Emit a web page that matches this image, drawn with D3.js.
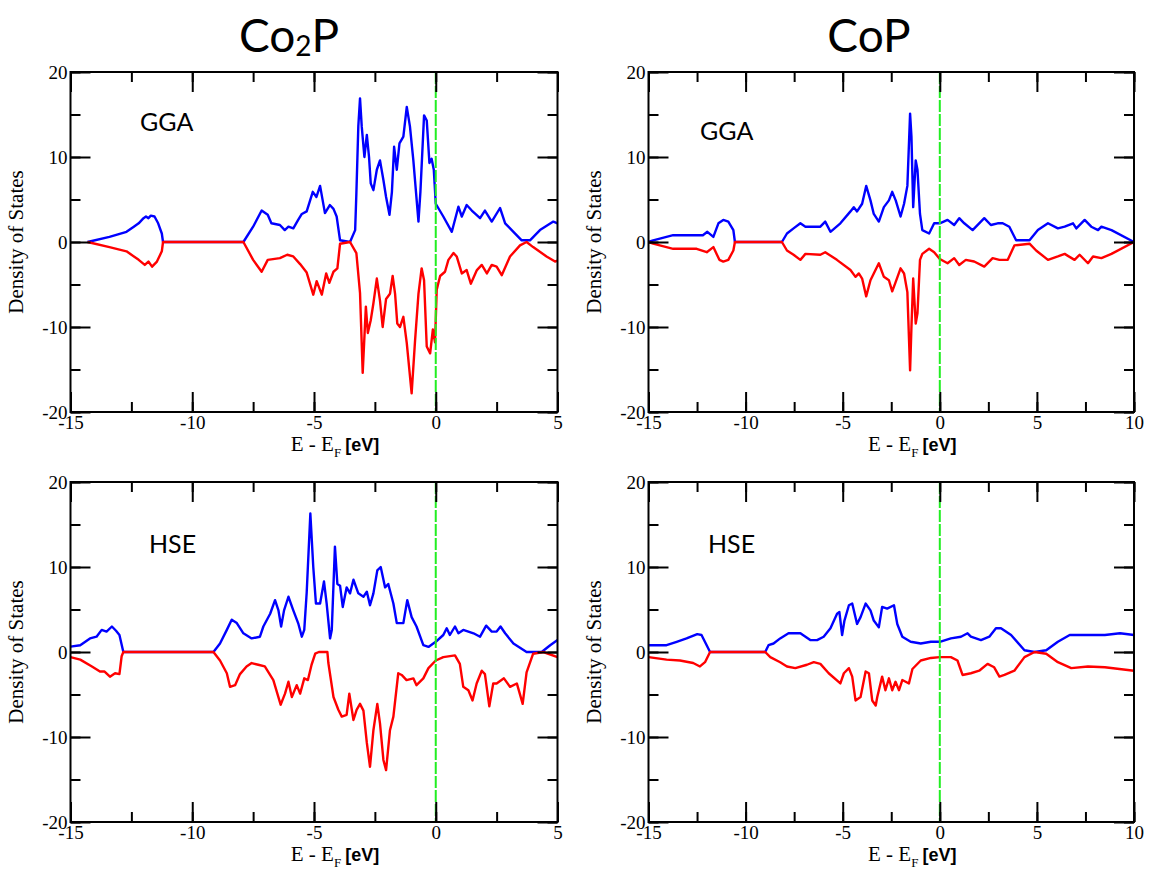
<!DOCTYPE html>
<html><head><meta charset="utf-8">
<script src="https://cdn.jsdelivr.net/npm/d3@7"></script>
<style>body{margin:0;background:#fff} svg{display:block}</style>
</head><body><svg id="c" width="1149" height="871"></svg>
<script>
// ---------- DATA: [E - E_F (eV), DOS] ----------
const co2pGgaUp = [[-14.3,0],[-13.4,0.6],[-12.7,1.2],[-12.4,1.8],[-12.2,2.2],[-12.0,2.8],[-11.9,3.0],[-11.8,2.8],[-11.7,3.1],[-11.55,3.0],[-11.4,2.2],[-11.25,1.0],[-11.2,0],
[-7.9,0],[-7.5,1.8],[-7.15,3.7],[-6.9,3.2],[-6.75,2.2],[-6.4,2.0],[-6.2,1.4],[-6.05,1.8],[-5.85,1.6],[-5.65,2.6],[-5.5,3.3],[-5.3,3.6],[-5.05,5.9],[-4.9,5.3],[-4.75,6.6],[-4.55,3.4],[-4.35,4.35],[-4.2,3.9],[-4.07,3.0],[-3.93,0.2],[-3.52,0],[-3.31,1.4],[-3.26,5.7],[-3.18,13.6],[-3.11,16.9],[-3.04,13.6],[-2.93,10.0],[-2.83,12.6],[-2.74,10.0],[-2.67,6.9],[-2.56,6.1],[-2.42,8.5],[-2.29,9.6],[-2.15,7.3],[-2.04,5.3],[-1.9,3.2],[-1.8,5.9],[-1.71,11.2],[-1.6,8.5],[-1.49,11.6],[-1.33,12.4],[-1.19,15.9],[-1.06,13.6],[-0.92,9.6],[-0.71,2.4],[-0.63,5.9],[-0.48,14.9],[-0.37,14.3],[-0.26,9.3],[-0.17,9.8],[-0.08,8.5],[0,4.5],[0.31,3.0],[0.66,1.2],[0.93,4.15],[1.07,3.0],[1.27,4.35],[1.48,3.7],[1.82,2.8],[2.02,3.7],[2.3,2.4],[2.64,4.0],[2.85,2.2],[3.19,1.2],[3.53,0.2],[3.87,0.2],[4.28,1.4],[4.83,2.4],[5,2.2]];
const co2pGgaDn = [[-14.3,0],[-13.4,-0.6],[-12.7,-1.1],[-12.2,-2.1],[-11.95,-2.7],[-11.8,-2.3],[-11.65,-2.9],[-11.45,-2.3],[-11.25,-1.1],[-11.2,0],
[-7.9,0],[-7.5,-2.1],[-7.15,-3.5],[-6.9,-2.1],[-6.4,-1.9],[-6.1,-1.5],[-5.85,-1.7],[-5.57,-2.6],[-5.3,-3.6],[-5.03,-6.2],[-4.89,-4.6],[-4.68,-6.2],[-4.5,-3.7],[-4.37,-4.8],[-4.2,-3.5],[-4.04,-3.1],[-3.93,-0.2],[-3.52,0],[-3.26,-1.3],[-3.11,-6.0],[-3.0,-15.4],[-2.87,-7.6],[-2.79,-10.7],[-2.67,-9.2],[-2.56,-7.2],[-2.42,-4.3],[-2.29,-6.9],[-2.18,-10.0],[-2.04,-6.7],[-1.88,-6.1],[-1.77,-4.0],[-1.67,-6.1],[-1.58,-9.6],[-1.47,-10.0],[-1.33,-8.8],[-1.19,-11.9],[-0.99,-17.8],[-0.85,-11.6],[-0.71,-6.1],[-0.58,-3.1],[-0.48,-4.5],[-0.37,-12.3],[-0.23,-13.1],[-0.12,-10.3],[-0.03,-11.8],[0.04,-5.6],[0.18,-4.0],[0.38,-3.5],[0.52,-2.1],[0.73,-1.3],[0.86,-1.7],[1.07,-3.7],[1.27,-3.3],[1.44,-4.9],[1.69,-3.3],[1.89,-2.7],[2.1,-3.7],[2.3,-2.7],[2.5,-2.9],[2.71,-3.9],[3.05,-1.7],[3.46,-0.4],[3.73,0],[4.0,-0.6],[4.55,-1.7],[4.9,-2.3],[5,-2.2]];

const copGgaUp = [[-15,0],[-14.76,0.2],[-13.73,0.8],[-12.52,0.8],[-12.2,0.8],[-11.97,1.2],[-11.66,0.6],[-11.4,2.2],[-11.15,2.6],[-10.89,2.4],[-10.63,1.4],[-10.55,0],
[-8.13,0],[-7.87,1.0],[-7.53,1.6],[-7.18,2.2],[-6.92,1.8],[-6.15,1.8],[-5.9,2.4],[-5.63,1.2],[-5.12,2.2],[-4.6,3.6],[-4.43,4.1],[-4.26,3.6],[-4.0,4.5],[-3.79,6.6],[-3.57,4.9],[-3.4,3.3],[-3.14,2.4],[-2.88,4.1],[-2.62,4.9],[-2.45,5.9],[-2.27,4.9],[-2.02,3.0],[-1.84,4.5],[-1.67,6.6],[-1.53,15.1],[-1.46,12.4],[-1.37,4.1],[-1.24,9.6],[-1.15,8.5],[-1.02,3.3],[-0.9,1.4],[-0.55,1.0],[-0.29,2.2],[0,2.2],[0.4,2.6],[0.74,2.0],[1.0,2.8],[1.26,2.2],[1.69,1.4],[2.29,2.8],[2.63,2.0],[2.98,2.2],[3.24,2.2],[3.58,1.8],[3.93,0.2],[4.62,0.2],[5.05,1.4],[5.57,2.2],[6.08,1.6],[6.43,1.8],[6.86,2.2],[7.03,1.6],[7.46,2.6],[7.8,1.8],[8.15,1.4],[8.32,1.8],[8.84,1.4],[10,0]];
const copGgaDn = [[-15,0],[-14.76,-0.2],[-13.73,-0.8],[-12.52,-0.8],[-12.0,-1.2],[-11.66,-0.6],[-11.35,-2.1],[-11.15,-2.3],[-10.89,-2.1],[-10.63,-1.0],[-10.55,0],
[-8.13,0],[-7.87,-1.0],[-7.53,-1.5],[-7.18,-2.1],[-6.92,-1.4],[-6.15,-1.5],[-5.9,-1.2],[-5.3,-2.1],[-4.6,-3.3],[-4.34,-4.1],[-4.17,-3.7],[-4.0,-4.3],[-3.79,-6.4],[-3.57,-4.5],[-3.4,-3.7],[-3.14,-2.5],[-2.88,-4.1],[-2.62,-4.5],[-2.45,-5.8],[-2.27,-4.7],[-2.02,-3.1],[-1.84,-3.7],[-1.67,-5.9],[-1.53,-15.1],[-1.46,-10.0],[-1.37,-4.3],[-1.24,-9.6],[-1.15,-8.4],[-1.02,-2.1],[-0.9,-1.4],[-0.55,-0.8],[-0.29,-1.2],[0,-2.0],[0.4,-2.5],[0.74,-1.9],[1.0,-2.7],[1.34,-2.1],[1.77,-2.3],[2.29,-2.9],[2.72,-1.9],[3.07,-2.1],[3.5,-2.1],[3.84,-0.4],[4.62,-0.2],[4.96,-1.0],[5.57,-2.1],[6.08,-1.7],[6.43,-1.4],[6.94,-2.1],[7.2,-1.5],[7.63,-2.5],[7.89,-1.7],[8.32,-1.9],[8.84,-1.4],[10,0]];

const co2pHseUp = [[-15,0.63],[-14.6,0.8],[-14.2,1.6],[-13.93,1.8],[-13.72,2.6],[-13.52,2.4],[-13.3,3.0],[-13.13,2.5],[-12.99,2.0],[-12.83,0],
[-9.13,0],[-8.86,1.0],[-8.58,2.6],[-8.38,3.8],[-8.17,3.4],[-7.9,2.2],[-7.56,1.6],[-7.22,1.8],[-7.08,3.0],[-6.8,4.5],[-6.6,6.1],[-6.46,4.9],[-6.35,3.0],[-6.23,4.9],[-6.05,6.5],[-5.85,4.9],[-5.64,3.3],[-5.5,1.8],[-5.4,2.6],[-5.3,7.0],[-5.15,16.3],[-5.03,10.0],[-4.92,5.7],[-4.75,5.7],[-4.59,8.3],[-4.48,5.7],[-4.34,1.6],[-4.27,2.6],[-4.14,12.4],[-4.04,8.0],[-3.93,7.8],[-3.82,5.3],[-3.66,7.6],[-3.52,6.9],[-3.38,8.5],[-3.18,6.9],[-2.97,6.5],[-2.83,7.1],[-2.7,5.5],[-2.56,6.9],[-2.4,9.6],[-2.26,10.0],[-2.08,7.6],[-1.95,8.0],[-1.74,5.7],[-1.6,3.4],[-1.33,3.4],[-1.17,6.1],[-0.99,4.1],[-0.79,3.0],[-0.51,0.8],[-0.3,0.6],[0,1.2],[0.31,2.0],[0.45,2.8],[0.58,2.0],[0.79,3.0],[0.93,2.2],[1.13,2.6],[1.55,2.2],[1.82,1.8],[2.07,3.1],[2.3,2.4],[2.5,2.4],[2.66,3.0],[2.85,2.2],[3.19,1.0],[3.73,0],[4.35,0],[4.7,0.8],[5,1.4]];
const co2pHseDn = [[-15,-0.6],[-14.6,-0.9],[-14.12,-1.7],[-13.79,-2.3],[-13.6,-2.3],[-13.38,-2.9],[-13.17,-2.5],[-12.99,-2.6],[-12.9,-0.5],[-12.83,0],
[-9.13,0],[-8.86,-1.0],[-8.58,-2.5],[-8.45,-4.1],[-8.24,-3.9],[-8.04,-2.6],[-7.77,-1.7],[-7.56,-1.3],[-7.29,-1.5],[-7.02,-1.7],[-6.67,-3.3],[-6.37,-6.2],[-6.19,-4.9],[-6.05,-3.5],[-5.91,-5.3],[-5.71,-3.9],[-5.57,-4.9],[-5.4,-3.1],[-5.25,-3.3],[-5.1,-1.5],[-4.95,-0.2],[-4.8,0],[-4.45,0],[-4.41,-1.3],[-4.2,-5.3],[-4.0,-6.8],[-3.86,-7.6],[-3.66,-7.4],[-3.55,-4.9],[-3.38,-8.0],[-3.25,-6.8],[-3.11,-6.1],[-2.97,-6.9],[-2.83,-10.7],[-2.7,-13.5],[-2.56,-9.2],[-2.4,-6.1],[-2.29,-8.4],[-2.15,-12.7],[-2.04,-13.9],[-1.88,-9.2],[-1.74,-7.6],[-1.54,-2.5],[-1.4,-2.7],[-1.2,-3.3],[-0.92,-3.1],[-0.79,-3.9],[-0.51,-3.1],[-0.3,-1.9],[0,-1.0],[0.31,-0.6],[0.79,-0.4],[0.99,-1.4],[1.13,-4.1],[1.34,-4.5],[1.51,-5.7],[1.68,-3.7],[1.89,-2.2],[2.02,-2.6],[2.2,-6.4],[2.36,-3.7],[2.5,-3.7],[2.8,-3.1],[3.05,-4.1],[3.33,-3.7],[3.57,-6.1],[3.73,-2.4],[4.0,-0.2],[4.42,0],[5,-0.6]];

const copHseUp = [[-15,0.8],[-14.07,0.8],[-13.55,1.2],[-13.04,1.6],[-12.49,2.1],[-12.27,2.0],[-12.05,1.0],[-11.83,0],
[-8.99,0],[-8.82,0.8],[-8.56,1.0],[-8.22,1.6],[-7.79,2.2],[-7.18,2.2],[-6.67,1.4],[-6.32,1.4],[-5.98,1.8],[-5.63,2.8],[-5.29,4.5],[-5.17,4.7],[-5.03,2.0],[-4.91,3.7],[-4.68,5.5],[-4.51,5.7],[-4.26,3.3],[-4.08,4.1],[-3.82,5.7],[-3.57,4.9],[-3.4,3.7],[-3.14,2.9],[-2.97,5.3],[-2.71,5.1],[-2.36,5.5],[-2.19,3.3],[-1.93,1.8],[-1.5,1.2],[-0.98,1.0],[-0.46,1.2],[0,1.2],[0.57,1.6],[1.09,1.8],[1.43,2.2],[1.6,1.8],[2.12,1.4],[2.55,1.8],[2.89,2.8],[3.15,2.8],[3.67,2.0],[4.36,0.2],[4.88,0],[5.48,0.2],[6.08,1.2],[6.69,2.0],[7.12,2.0],[8.5,2.0],[9.28,2.2],[10,2.0]];
const copHseDn = [[-15,-0.6],[-14.07,-0.9],[-13.38,-1.0],[-12.7,-1.3],[-12.35,-1.7],[-12.09,-1.2],[-11.83,0],
[-8.99,0],[-8.73,-0.6],[-8.22,-1.2],[-7.87,-1.7],[-7.44,-1.9],[-6.84,-1.5],[-6.49,-1.2],[-6.15,-1.4],[-5.72,-2.5],[-5.12,-3.7],[-4.94,-2.5],[-4.68,-1.9],[-4.51,-2.9],[-4.34,-5.7],[-4.08,-5.3],[-3.82,-2.3],[-3.65,-2.5],[-3.48,-5.7],[-3.3,-6.3],[-3.22,-5.3],[-2.97,-2.9],[-2.8,-4.5],[-2.62,-3.1],[-2.45,-4.5],[-2.28,-3.5],[-2.1,-4.5],[-1.93,-3.3],[-1.59,-3.7],[-1.41,-2.0],[-0.98,-1.0],[-0.46,-0.7],[0,-0.6],[0.57,-0.6],[0.91,-1.0],[1.17,-2.7],[1.6,-2.5],[2.03,-2.2],[2.46,-1.4],[2.8,-1.8],[3.07,-2.9],[3.33,-2.7],[3.84,-2.2],[4.36,-0.6],[4.88,0],[5.48,-0.2],[6.08,-1.2],[6.77,-1.9],[7.63,-1.7],[8.5,-1.8],[10,-2.2]];

const xTicksCo2P = [-15,-10,-5,0,5];
const xTicksCoP  = [-15,-10,-5,0,5,10];
const yTicks = [-20,-10,0,10,20];
const yDomain = [-20,20];
const methodLabels = ["GGA","HSE"];
const yTitle = "Density of States";

// ---------- LAYOUT ----------
const panels = [
  {up:co2pGgaUp, dn:co2pGgaDn, xDomain:[-15,5],  xTicks:xTicksCo2P, left:70.5,  right:557.5, top:72,  bottom:412, label:methodLabels[0], lx:140, ly:131},
  {up:copGgaUp,  dn:copGgaDn,  xDomain:[-15,10], xTicks:xTicksCoP,  left:648.5, right:1134,  top:72,  bottom:412, label:methodLabels[0], lx:700, ly:140},
  {up:co2pHseUp, dn:co2pHseDn, xDomain:[-15,5],  xTicks:xTicksCo2P, left:70.5,  right:557.5, top:482, bottom:822, label:methodLabels[1], lx:149, ly:553},
  {up:copHseUp,  dn:copHseDn,  xDomain:[-15,10], xTicks:xTicksCoP,  left:648.5, right:1134,  top:482, bottom:822, label:methodLabels[1], lx:708, ly:553}
];

const svg = d3.select("#c");
const serif = "'Liberation Serif','Times New Roman',serif";

// titles
const t1 = svg.append("text").attr("x",289).attr("y",52).attr("text-anchor","middle")
  .attr("font-family","Lato, 'Open Sans', sans-serif").attr("font-size",46).attr("fill","#000");
t1.append("tspan").text("Co");
t1.append("tspan").text("2").attr("font-size",28).attr("dy",4);
t1.append("tspan").text("P").attr("dy",-4);
svg.append("text").attr("x",869).attr("y",52).attr("text-anchor","middle")
  .attr("font-family","Lato, 'Open Sans', sans-serif").attr("font-size",46).attr("fill","#000").text("CoP");

panels.forEach(p => {
  const x = d3.scaleLinear().domain(p.xDomain).range([p.left, p.right]);
  const y = d3.scaleLinear().domain(yDomain).range([p.bottom, p.top]);
  const g = svg.append("g");
  const line = d3.line().x(d => x(d[0])).y(d => y(d[1]));

  g.append("path").datum(p.up).attr("d", line).attr("fill","none")
    .attr("stroke","#0000ff").attr("stroke-width",2.4).attr("stroke-linejoin","round");
  g.append("path").datum(p.dn).attr("d", line).attr("fill","none")
    .attr("stroke","#ff0000").attr("stroke-width",2.4).attr("stroke-linejoin","round");

  // Fermi level
  g.append("line").attr("x1",x(0)).attr("x2",x(0)).attr("y1",y(yDomain[1])).attr("y2",y(yDomain[0]))
    .attr("stroke","#22ee22").attr("stroke-width",2).attr("stroke-dasharray","12,2");

  const minorX = d3.range(p.xDomain[0], p.xDomain[1] + 0.001, 2.5);
  const minorY = d3.range(yDomain[0], yDomain[1] + 0.001, 5);
  const fmt = d => String(d);
  const style = sel => {
    sel.select(".domain").remove();
    sel.selectAll("line").attr("stroke","#000").attr("stroke-width",2);
    sel.selectAll("text").attr("font-family",serif).attr("font-size",19).attr("fill","#000");
  };

  g.append("g").attr("transform",`translate(0,${p.bottom})`)
    .call(d3.axisBottom(x).tickValues(minorX).tickSize(-10).tickFormat("")).call(style);
  g.append("g").attr("transform",`translate(0,${p.bottom})`)
    .call(d3.axisBottom(x).tickValues(p.xTicks).tickSize(-20).tickPadding(4).tickFormat(fmt)).call(style);
  g.append("g").attr("transform",`translate(0,${p.top})`)
    .call(d3.axisTop(x).tickValues(minorX).tickSize(-10).tickFormat("")).call(style);
  g.append("g").attr("transform",`translate(0,${p.top})`)
    .call(d3.axisTop(x).tickValues(p.xTicks).tickSize(-20).tickFormat("")).call(style);
  g.append("g").attr("transform",`translate(${p.left},0)`)
    .call(d3.axisLeft(y).tickValues(minorY).tickSize(-10).tickFormat("")).call(style);
  g.append("g").attr("transform",`translate(${p.left},0)`)
    .call(d3.axisLeft(y).tickValues(yTicks).tickSize(-20).tickPadding(3).tickFormat(fmt)).call(style);
  g.append("g").attr("transform",`translate(${p.right},0)`)
    .call(d3.axisRight(y).tickValues(minorY).tickSize(-10).tickFormat("")).call(style);
  g.append("g").attr("transform",`translate(${p.right},0)`)
    .call(d3.axisRight(y).tickValues(yTicks).tickSize(-20).tickFormat("")).call(style);

  g.append("rect").attr("x",p.left).attr("y",p.top).attr("width",p.right-p.left).attr("height",p.bottom-p.top)
    .attr("fill","none").attr("stroke","#000").attr("stroke-width",2);

  // method label
  g.append("text").attr("x",p.lx).attr("y",p.ly).attr("font-family","Lato, 'Open Sans', sans-serif")
    .attr("font-size",25).attr("fill","#000").text(p.label);

  // x title
  const cx = (p.left + p.right)/2 + 21;
  const xt = g.append("text").attr("x",cx).attr("y",p.bottom+39).attr("text-anchor","middle").attr("fill","#000");
  xt.append("tspan").attr("font-family",serif).attr("font-size",21).text("E - E");
  xt.append("tspan").attr("font-family",serif).attr("font-size",13).attr("dy",6).text("F");
  xt.append("tspan").attr("font-family","'Liberation Sans',Arial,sans-serif").attr("font-weight","bold")
    .attr("font-size",18).attr("dy",-6).attr("dx",4).text("[eV]");

  // y title
  g.append("text").attr("transform",`translate(${p.left-48},${(p.top+p.bottom)/2}) rotate(-90)`)
    .attr("text-anchor","middle").attr("font-family",serif).attr("font-size",21).attr("fill","#000")
    .text(yTitle);
});
</script></body></html>
